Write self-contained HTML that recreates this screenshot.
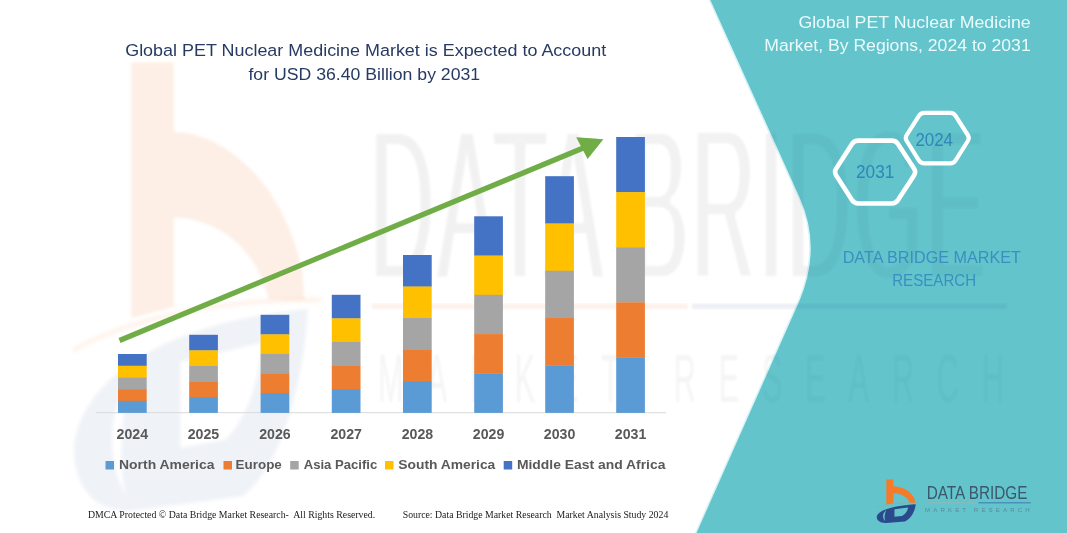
<!DOCTYPE html>
<html lang="en">
<head>
<meta charset="utf-8">
<title>Global PET Nuclear Medicine Market</title>
<style>
html,body{margin:0;padding:0;background:#fff;}
body{width:1067px;height:533px;overflow:hidden;position:relative;font-family:"Liberation Sans",sans-serif;}
svg{position:absolute;left:0;top:0;display:block;}
text{font-family:"Liberation Sans",sans-serif;}
.serif{font-family:"Liberation Serif",serif;}
</style>
</head>
<body>
<svg width="1067" height="533" viewBox="0 0 1067 533">
<defs>
<filter id="blur2" x="-5%" y="-5%" width="110%" height="110%"><feGaussianBlur stdDeviation="1.6"/></filter>
<filter id="blur1" x="-5%" y="-5%" width="110%" height="110%"><feGaussianBlur stdDeviation="0.9"/></filter>
<filter id="wmf" x="-2%" y="-5%" width="104%" height="110%"><feMorphology operator="erode" radius="0 3"/><feMorphology operator="dilate" radius="1.1 0"/><feGaussianBlur stdDeviation="1.1"/></filter>
<clipPath id="whiteclip"><path d="M0,0 L709.5,0 L799,198 Q821,247 799,300 L695.7,533 L0,533 Z"/></clipPath>
<clipPath id="tealclip"><path d="M709.5,0 L1067,0 L1067,533 L695.7,533 L799,300 Q821,247 799,198 Z"/></clipPath>
</defs>
<!-- teal background -->
<rect x="0" y="0" width="1067" height="533" fill="#63C4CC"/>
<!-- white chart panel with light edge -->
<path d="M0,0 L709.5,0 L799,198 Q821,247 799,300 L695.7,533 L0,533 Z" fill="#ffffff"/>
<path d="M709.5,0 L799,198 Q821,247 799,300 L695.7,533" fill="none" stroke="#d8f3f5" stroke-width="1.5"/>

<!-- faint watermark -->
<g id="wm">
  <g clip-path="url(#whiteclip)" filter="url(#blur2)">
    <g transform="translate(33.5,-13.7) scale(0.6528,1.1206)">
      <path d="M150,68 L215,68 L215,130 C 290,130 385,175 412,255 L 415,280 L 360,279 C 345,238 290,208 215,206 L215,286 L150,296 Z" fill="#ED7D31" opacity="0.12"/>
      <path d="M60,325 C 150,295 300,278 440,280" fill="none" stroke="#ED7D31" stroke-width="5" opacity="0.08"/>
      <path d="M62,410 C 75,350 200,300 420,288 C 415,350 380,430 320,455 L 150,468 C 100,470 60,450 62,410 Z M225,335 L350,318 C 345,365 310,400 290,405 L225,412 Z M150,345 C 112,380 112,425 140,452 C 130,420 135,380 150,345 Z" fill="#2C4A8C" fill-rule="evenodd" opacity="0.062"/>
    </g>
  </g>
  <g clip-path="url(#whiteclip)"><g opacity="0.058">
    <g filter="url(#wmf)"><g transform="translate(370,279) scale(0.412,1)" fill="#222">
      <text x="0" y="0" font-size="215" textLength="1493" lengthAdjust="spacing">DATA BRIDGE</text>
    </g></g>
    <g filter="url(#blur1)" opacity="0.75"><g transform="translate(378,402) scale(0.45,1)" fill="#222">
      <text x="0" y="0" font-size="68" textLength="1391" lengthAdjust="spacing">MARKET RESEARCH</text>
    </g></g>
  </g></g>
  <g clip-path="url(#tealclip)"><g opacity="0.038">
    <g filter="url(#wmf)"><g transform="translate(370,279) scale(0.412,1)" fill="#123">
      <text x="0" y="0" font-size="215" textLength="1493" lengthAdjust="spacing">DATA BRIDGE</text>
    </g></g>
    <g filter="url(#blur1)" opacity="0.8"><g transform="translate(378,402) scale(0.45,1)" fill="#123">
      <text x="0" y="0" font-size="68" textLength="1391" lengthAdjust="spacing">MARKET RESEARCH</text>
    </g></g>
  </g></g>
  <rect x="372" y="303.5" width="316" height="5.5" fill="#ED7D31" opacity="0.09" filter="url(#blur1)"/>
  <rect x="692" y="303.5" width="315" height="5.5" fill="#2C4A8C" opacity="0.08" filter="url(#blur1)"/>
</g>

<!-- Title -->
<g fill="#263A63" font-size="16.8">
<text x="125.2" y="55.6" textLength="481" lengthAdjust="spacingAndGlyphs">Global PET Nuclear Medicine Market is Expected to Account</text>
<text x="248.4" y="79.6" textLength="231.8" lengthAdjust="spacingAndGlyphs">for USD 36.40 Billion by 2031</text>
</g>

<!-- axis -->
<rect x="96" y="412.2" width="570" height="1" fill="#D9D9D9"/>
<!-- bars -->
<rect x="118.0" y="354.00" width="28.7" height="12.02" fill="#4472C4"/>
<rect x="118.0" y="365.72" width="28.7" height="12.02" fill="#FFC000"/>
<rect x="118.0" y="377.44" width="28.7" height="12.02" fill="#A5A5A5"/>
<rect x="118.0" y="389.16" width="28.7" height="12.02" fill="#ED7D31"/>
<rect x="118.0" y="400.88" width="28.7" height="12.02" fill="#5B9BD5"/>
<rect x="189.2" y="334.80" width="28.7" height="15.86" fill="#4472C4"/>
<rect x="189.2" y="350.36" width="28.7" height="15.86" fill="#FFC000"/>
<rect x="189.2" y="365.92" width="28.7" height="15.86" fill="#A5A5A5"/>
<rect x="189.2" y="381.48" width="28.7" height="15.86" fill="#ED7D31"/>
<rect x="189.2" y="397.04" width="28.7" height="15.86" fill="#5B9BD5"/>
<rect x="260.6" y="314.80" width="28.7" height="19.86" fill="#4472C4"/>
<rect x="260.6" y="334.36" width="28.7" height="19.86" fill="#FFC000"/>
<rect x="260.6" y="353.92" width="28.7" height="19.86" fill="#A5A5A5"/>
<rect x="260.6" y="373.48" width="28.7" height="19.86" fill="#ED7D31"/>
<rect x="260.6" y="393.04" width="28.7" height="19.86" fill="#5B9BD5"/>
<rect x="331.8" y="294.80" width="28.7" height="23.86" fill="#4472C4"/>
<rect x="331.8" y="318.36" width="28.7" height="23.86" fill="#FFC000"/>
<rect x="331.8" y="341.92" width="28.7" height="23.86" fill="#A5A5A5"/>
<rect x="331.8" y="365.48" width="28.7" height="23.86" fill="#ED7D31"/>
<rect x="331.8" y="389.04" width="28.7" height="23.86" fill="#5B9BD5"/>
<rect x="403.0" y="255.00" width="28.7" height="31.82" fill="#4472C4"/>
<rect x="403.0" y="286.52" width="28.7" height="31.82" fill="#FFC000"/>
<rect x="403.0" y="318.04" width="28.7" height="31.82" fill="#A5A5A5"/>
<rect x="403.0" y="349.56" width="28.7" height="31.82" fill="#ED7D31"/>
<rect x="403.0" y="381.08" width="28.7" height="31.82" fill="#5B9BD5"/>
<rect x="474.2" y="216.30" width="28.7" height="39.56" fill="#4472C4"/>
<rect x="474.2" y="255.56" width="28.7" height="39.56" fill="#FFC000"/>
<rect x="474.2" y="294.82" width="28.7" height="39.56" fill="#A5A5A5"/>
<rect x="474.2" y="334.08" width="28.7" height="39.56" fill="#ED7D31"/>
<rect x="474.2" y="373.34" width="28.7" height="39.56" fill="#5B9BD5"/>
<rect x="545.2" y="176.20" width="28.7" height="47.58" fill="#4472C4"/>
<rect x="545.2" y="223.48" width="28.7" height="47.58" fill="#FFC000"/>
<rect x="545.2" y="270.76" width="28.7" height="47.58" fill="#A5A5A5"/>
<rect x="545.2" y="318.04" width="28.7" height="47.58" fill="#ED7D31"/>
<rect x="545.2" y="365.32" width="28.7" height="47.58" fill="#5B9BD5"/>
<rect x="616.2" y="137.00" width="28.7" height="55.42" fill="#4472C4"/>
<rect x="616.2" y="192.12" width="28.7" height="55.42" fill="#FFC000"/>
<rect x="616.2" y="247.24" width="28.7" height="55.42" fill="#A5A5A5"/>
<rect x="616.2" y="302.36" width="28.7" height="55.42" fill="#ED7D31"/>
<rect x="616.2" y="357.48" width="28.7" height="55.42" fill="#5B9BD5"/>
<!-- year labels -->
<g fill="#595959" font-size="14.2" font-weight="bold">
<text x="132.3" y="439" text-anchor="middle" textLength="31.5" lengthAdjust="spacingAndGlyphs">2024</text>
<text x="203.5" y="439" text-anchor="middle" textLength="31.5" lengthAdjust="spacingAndGlyphs">2025</text>
<text x="275.0" y="439" text-anchor="middle" textLength="31.5" lengthAdjust="spacingAndGlyphs">2026</text>
<text x="346.2" y="439" text-anchor="middle" textLength="31.5" lengthAdjust="spacingAndGlyphs">2027</text>
<text x="417.4" y="439" text-anchor="middle" textLength="31.5" lengthAdjust="spacingAndGlyphs">2028</text>
<text x="488.6" y="439" text-anchor="middle" textLength="31.5" lengthAdjust="spacingAndGlyphs">2029</text>
<text x="559.6" y="439" text-anchor="middle" textLength="31.5" lengthAdjust="spacingAndGlyphs">2030</text>
<text x="630.6" y="439" text-anchor="middle" textLength="31.5" lengthAdjust="spacingAndGlyphs">2031</text>
</g>

<!-- arrow -->
<g>
<line x1="119.5" y1="340.5" x2="588" y2="146" stroke="#70AD47" stroke-width="5.2" stroke-linecap="butt"/>
<polygon points="576.2,137.2 603.4,139.2 587.6,159" fill="#70AD47"/>
</g>

<!-- legend -->
<g font-size="13.4" font-weight="bold" fill="#595959">
<rect x="105.5" y="461" width="8.5" height="8.5" fill="#5B9BD5"/>
<text x="119" y="469.2" textLength="95.5" lengthAdjust="spacingAndGlyphs">North America</text>
<rect x="223.5" y="461" width="8.5" height="8.5" fill="#ED7D31"/>
<text x="235.6" y="469.2" textLength="46.2" lengthAdjust="spacingAndGlyphs">Europe</text>
<rect x="290.2" y="461" width="8.5" height="8.5" fill="#A5A5A5"/>
<text x="303.7" y="469.2" textLength="73.6" lengthAdjust="spacingAndGlyphs">Asia Pacific</text>
<rect x="385" y="461" width="8.5" height="8.5" fill="#FFC000"/>
<text x="398.3" y="469.2" textLength="97" lengthAdjust="spacingAndGlyphs">South America</text>
<rect x="503.7" y="461" width="8.5" height="8.5" fill="#4472C4"/>
<text x="516.9" y="469.2" textLength="148.5" lengthAdjust="spacingAndGlyphs">Middle East and Africa</text>
</g>

<!-- footer -->
<g class="serif" font-size="9.6" fill="#1a1a1a">
<text class="serif" x="88" y="517.6" textLength="287.2" lengthAdjust="spacingAndGlyphs" xml:space="preserve">DMCA Protected © Data Bridge Market Research-  All Rights Reserved.</text>
<text class="serif" x="402.7" y="517.6" textLength="265.6" lengthAdjust="spacingAndGlyphs" xml:space="preserve">Source: Data Bridge Market Research  Market Analysis Study 2024</text>
</g>

<!-- right panel title -->
<g fill="#EAFBFC" font-size="16.8">
<text x="798.4" y="27.6" textLength="232.3" lengthAdjust="spacingAndGlyphs">Global PET Nuclear Medicine</text>
<text x="764.3" y="51.2" textLength="266.4" lengthAdjust="spacingAndGlyphs">Market, By Regions, 2024 to 2031</text>
</g>

<!-- hexagons -->
<g fill="none" stroke="#ffffff" stroke-linejoin="round">
<path d="M836.2,175.4 Q834.0,172.0 836.2,168.6 L852.0,144.0 Q854.2,140.6 858.2,140.6 L891.8,140.6 Q895.8,140.6 898.0,144.0 L914.0,168.6 Q916.2,172.0 914.0,175.4 L898.0,200.1 Q895.8,203.5 891.8,203.5 L858.2,203.5 Q854.2,203.5 852.0,200.1 Z" stroke-width="4.6"/>
<path d="M906.7,141.0 Q904.8,138.0 906.7,135.0 L918.9,115.8 Q920.8,112.8 924.3,112.8 L950.2,112.8 Q953.7,112.8 955.6,115.8 L967.8,135.0 Q969.7,138.0 967.8,141.0 L955.6,160.3 Q953.7,163.3 950.2,163.3 L924.3,163.3 Q920.8,163.3 918.9,160.3 Z" stroke-width="4.2"/>
</g>
<g fill="#2E86B9" font-size="17.6">
<text x="856" y="178" textLength="38.3" lengthAdjust="spacingAndGlyphs">2031</text>
<text x="915.4" y="146" textLength="37.6" lengthAdjust="spacingAndGlyphs">2024</text>
</g>

<!-- DATA BRIDGE MARKET RESEARCH -->
<g fill="#3A8FC0" font-size="16.8">
<text x="842.7" y="262.6" textLength="178.3" lengthAdjust="spacingAndGlyphs">DATA BRIDGE MARKET</text>
<text x="892.2" y="286.4" textLength="83.9" lengthAdjust="spacingAndGlyphs">RESEARCH</text>
</g>

<!-- logo -->
<g id="logo">
  <g transform="translate(870,472) scale(0.10881)">
  <path d="M150,68 L215,68 L215,130 C 290,130 385,175 412,255 L 415,282 L 362,281 C 345,232 290,198 215,196 L215,288 L150,298 Z" fill="#F47B29"/>
  <path d="M60,325 C 150,295 300,278 440,280" fill="none" stroke="#F47B29" stroke-width="4" opacity="0.45"/>
  <path d="M62,410 C 78,352 200,312 420,297 C 415,355 380,430 320,455 L 150,468 C 100,470 60,450 62,410 Z M225,342 L350,327 C 345,368 310,400 290,405 L225,412 Z M150,350 C 112,382 112,425 140,452 C 130,420 135,385 150,350 Z" fill="#2B4A8B" fill-rule="evenodd"/>
  </g>
  <text x="926.7" y="499.3" font-size="18.7" fill="#3B586C" textLength="100.7" lengthAdjust="spacingAndGlyphs">DATA BRIDGE</text>
  <rect x="926.7" y="502.4" width="49.5" height="0.8" fill="#E9A58A" opacity="0.45"/>
  <rect x="978.5" y="502.4" width="52.3" height="0.9" fill="#3D6FB0"/>
  <text x="925" y="511.6" font-size="6.2" fill="#5a8c98" textLength="104.7" lengthAdjust="spacing">MARKET RESEARCH</text>
</g>
</svg>
</body>
</html>
